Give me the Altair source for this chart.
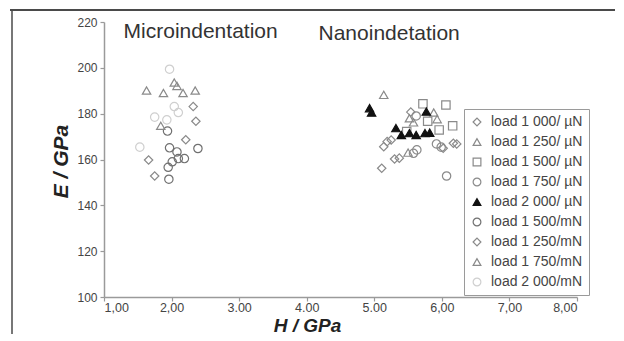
import altair as alt
import pandas as pd

# ---------------- data ----------------
series_order = ["load 1 000/ µN", "load 1 250/ µN", "load 1 500/ µN", "load 1 750/ µN",
                "load 2 000/ µN", "load 1 500/mN", "load 1 250/mN", "load 1 750/mN", "load 2 000/mN"]
series_shapes = ["diamond", "triangle-up", "square", "circle", "triangle-up",
                 "circle", "diamond", "triangle-up", "circle"]
series_stroke = ["#8a8a8a", "#8a8a8a", "#8a8a8a", "#8a8a8a", "#111111",
                 "#707070", "#8a8a8a", "#8a8a8a", "#cfcfcf"]
series_fill = ["transparent", "transparent", "transparent", "transparent", "#111111",
               "transparent", "transparent", "transparent", "transparent"]

# Nanoindentation (µN loads)
h_1000u = [5.54, 5.19, 5.14, 5.11, 6.17, 5.37, 5.30, 6.02, 5.25, 6.22]
e_1000u = [180.7, 167.8, 165.6, 156.2, 167.1, 160.6, 160.2, 164.9, 168.5, 166.8]
h_1250u = [5.14, 5.88, 5.93, 5.58, 5.50, 5.52]
e_1250u = [188.2, 180.5, 177.6, 176.2, 163.0, 178.0]
h_1500u = [5.72, 6.06, 6.16, 5.79, 5.48, 5.96]
e_1500u = [184.3, 183.8, 174.7, 176.7, 172.2, 172.9]
h_1750u = [5.62, 5.58, 5.63, 5.92, 5.99, 6.07]
e_1750u = [179.0, 162.7, 164.2, 166.8, 165.4, 152.8]
h_2000u = [4.93, 4.96, 5.77, 5.32, 5.40, 5.52, 5.62, 5.75, 5.82]
e_2000u = [182.4, 180.5, 180.9, 173.7, 170.7, 171.5, 170.7, 171.5, 171.7]

# Microindentation (mN loads)
h_1500m = [1.94, 1.97, 2.08, 2.39, 2.10, 2.19, 2.01, 1.95, 1.96]
e_1500m = [172.4, 165.1, 163.3, 164.8, 160.4, 160.4, 159.0, 156.6, 151.4]
h_1250m = [2.32, 2.36, 2.21, 1.66, 1.75]
e_1250m = [183.1, 176.7, 168.6, 159.8, 152.8]
h_1750m = [2.04, 2.08, 1.63, 1.88, 2.17, 2.35, 1.84]
e_1750m = [193.6, 192.1, 190.1, 189.0, 189.0, 190.1, 174.7]
h_2000m = [1.97, 2.04, 2.10, 1.75, 1.93, 1.53]
e_2000m = [199.4, 183.1, 180.5, 178.5, 177.3, 165.4]

x_tick_values = [1, 2, 3, 4, 5, 6, 7, 8]
x_tick_labels = ["1,00", "2,00", "3.00", "4.00", "5.00", "6,00", "7,00", "8,00"]
y_tick_values = [100, 120, 140, 160, 180, 200, 220]

annot_text = ["Microindentation", "Nanoindetation"]
annot_h = [2.43, 5.22]
annot_e = [215.8, 214.8]

# ---------------- build table ----------------
groups = [
    (series_order[0], h_1000u, e_1000u),
    (series_order[1], h_1250u, e_1250u),
    (series_order[2], h_1500u, e_1500u),
    (series_order[3], h_1750u, e_1750u),
    (series_order[4], h_2000u, e_2000u),
    (series_order[5], h_1500m, e_1500m),
    (series_order[6], h_1250m, e_1250m),
    (series_order[7], h_1750m, e_1750m),
    (series_order[8], h_2000m, e_2000m),
]
rows = []
for name, hs, es in groups:
    for h, e in zip(hs, es):
        rows.append({"series": name, "H": h, "E": e})
df = pd.DataFrame(rows)

label_expr = " : ".join(
    f"datum.value == {v} ? '{l}'" for v, l in zip(x_tick_values, x_tick_labels)
) + " : ''"

FONT = "Liberation Sans"

xscale = alt.Scale(domain=[1, 8], nice=False, zero=False)
yscale = alt.Scale(domain=[100, 220], nice=False, zero=False)

legend = alt.Legend(
    title=None, orient="none", legendX=360, legendY=87,
    strokeColor="#9a9a9a", padding=6, rowPadding=6,
    labelFontSize=14, labelFont=FONT, labelColor="#444444",
    symbolSize=60, symbolStrokeWidth=1.2, labelOffset=7,
    fillColor="white", labelLimit=200,
)

points = alt.Chart(df).mark_point(size=70, strokeWidth=1.2, opacity=1).encode(
    x=alt.X("H:Q", scale=xscale,
            axis=alt.Axis(values=x_tick_values, labelExpr=label_expr,
                          title="H / GPa", titleX=203, titleY=34,
                          titleAlign="center", titleBaseline="alphabetic",
                          titleFontSize=19)),
    y=alt.Y("E:Q", scale=yscale,
            axis=alt.Axis(values=y_tick_values, title="E / GPa",
                          titleX=-43, titleY=139, titleAngle=270,
                          titleAlign="center", titleBaseline="middle")),
    shape=alt.Shape("series:N", sort=series_order,
                    scale=alt.Scale(domain=series_order, range=series_shapes), legend=legend),
    stroke=alt.Stroke("series:N", sort=series_order,
                      scale=alt.Scale(domain=series_order, range=series_stroke), legend=legend),
    fill=alt.Fill("series:N", sort=series_order,
                  scale=alt.Scale(domain=series_order, range=series_fill), legend=legend),
)

annot_df = pd.DataFrame({"t": annot_text, "H": annot_h, "E": annot_e})
annots = alt.Chart(annot_df).mark_text(
    fontSize=21, font=FONT, color="#333333", align="center", baseline="middle"
).encode(x=alt.X("H:Q", scale=xscale), y=alt.Y("E:Q", scale=yscale), text="t:N")

one = pd.DataFrame({"a": [0]})
top_border = alt.Chart(one).mark_rule(color="#4a4a4a", strokeWidth=2).encode(
    x=alt.value(-94), x2=alt.value(520), y=alt.value(-12))
left_border = alt.Chart(one).mark_rule(color="#4a4a4a", strokeWidth=1.5).encode(
    x=alt.value(-92), y=alt.value(-12), y2=alt.value(330))

chart = alt.layer(top_border, left_border, annots, points).properties(
    width=473, height=275,
    autosize=alt.AutoSizeParams(type="none"),
    padding={"left": 96, "top": 14, "right": 38, "bottom": 37},
    background="white",
).configure_view(stroke=None).configure_axis(
    grid=False, domainColor="#9a9a9a", domainWidth=1.5,
    tickColor="#9a9a9a", tickWidth=1.2, tickSize=4,
    labelFont=FONT, labelColor="#444444", labelPadding=3,
    titleFont=FONT, titleFontSize=21, titleFontWeight="bold",
    titleFontStyle="italic", titleColor="#222222",
).configure_axisX(labelFontSize=12.5, labelPadding=0).configure_axisY(labelFontSize=12)

chart.save("out.html", embed_options={"renderer": "svg", "actions": False})
